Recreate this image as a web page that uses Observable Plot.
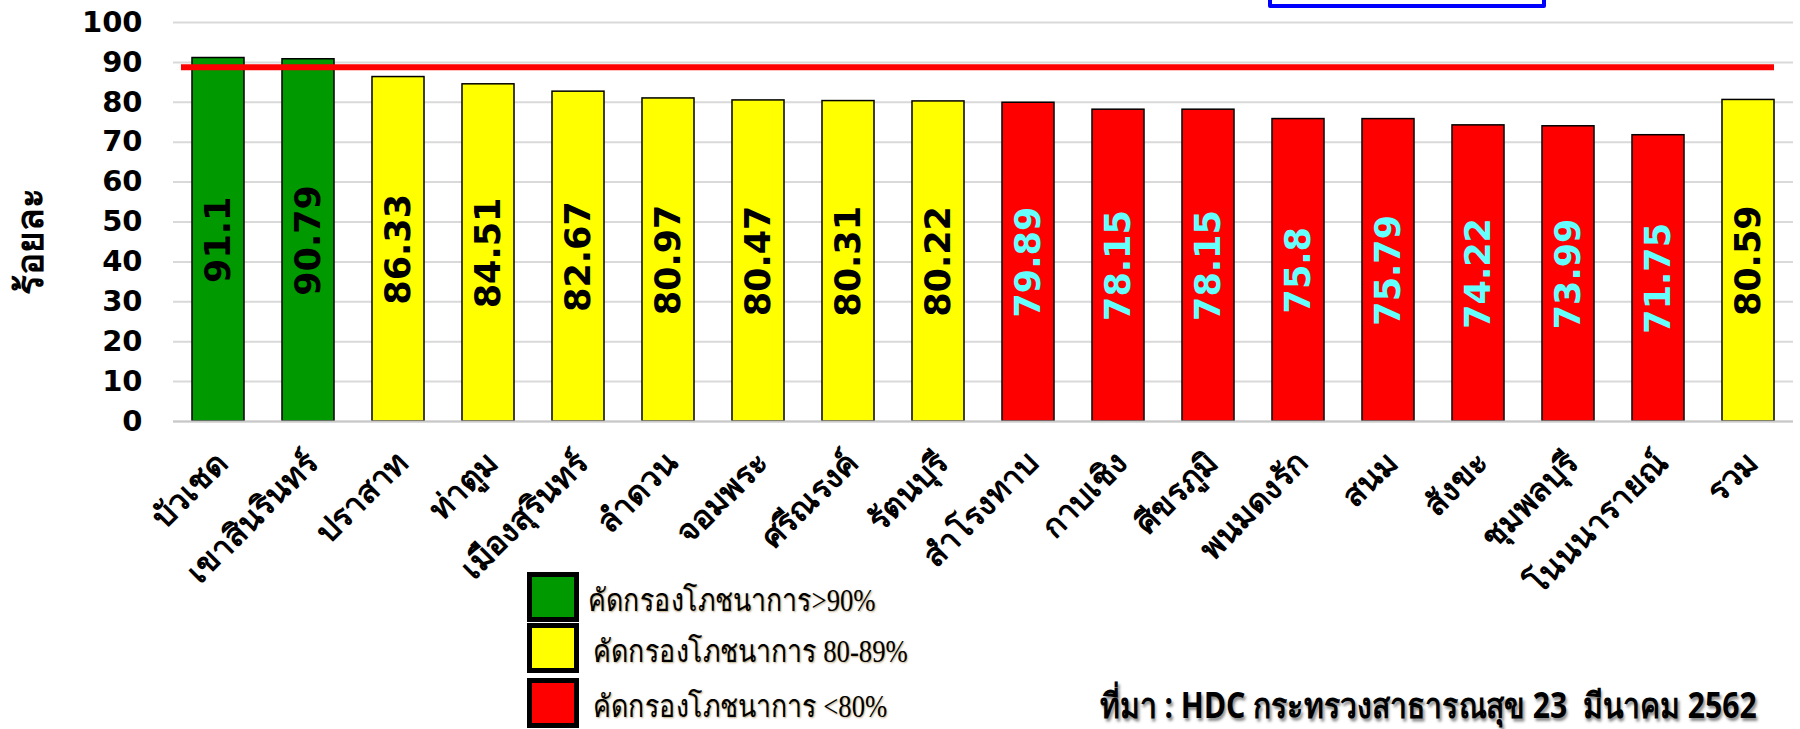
<!DOCTYPE html>
<html>
<head>
<meta charset="utf-8">
<script src="https://cdn.jsdelivr.net/npm/d3@7"></script>
<script src="https://cdn.jsdelivr.net/npm/@observablehq/plot@0.6"></script>
<style>
  html, body { margin: 0; padding: 0; background: #fff; overflow: hidden; }
  #wrap { position: relative; width: 1800px; height: 729px; overflow: hidden; background: #fff; }
  #chart { position: absolute; left: 0; top: 0; }
  .ylab { position: absolute; left: 29px; top: 241px; transform: translate(-50%, -50%) rotate(-90deg);
          font: bold 37px Tahoma, "Noto Sans", "DejaVu Sans", sans-serif; white-space: nowrap; color: #000; }
  .topbox { position: absolute; left: 1268px; top: -40px; width: 270px; height: 40px; border: 4px solid #0000ff; border-radius: 2px; }
  .leg { position: absolute; left: 527px; width: 42px; height: 40px; border: 5px solid #000; }
  .legt { position: absolute; font: 31px "Liberation Serif", "Noto Sans", serif; color: #000; white-space: nowrap;
          transform: scaleX(0.86); transform-origin: left center;
          text-shadow: 1px 1px 2px rgba(120,80,0,0.5); }
  .cap { position: absolute; left: 1100px; top: 678px; font: bold 35px "Noto Sans", "DejaVu Sans", sans-serif; white-space: pre;
         transform: scaleX(0.86); transform-origin: left center;
         text-shadow: 2px 3px 3px rgba(0,0,0,0.45); color: #000; }
</style>
</head>
<body>
<div id="wrap">
  <div id="chart"></div>
</div>
<script>
const districts = ["บัวเชด","เขาสินรินทร์","ปราสาท","ท่าตูม","เมืองสุรินทร์","ลำดวน","จอมพระ","ศรีณรงค์","รัตนบุรี","สำโรงทาบ","กาบเชิง","ศีขรภูมิ","พนมดงรัก","สนม","สังขะ","ชุมพลบุรี","โนนนารายณ์","รวม"];
const values = [91.1, 90.79, 86.33, 84.51, 82.67, 80.97, 80.47, 80.31, 80.22, 79.89, 78.15, 78.15, 75.8, 75.79, 74.22, 73.99, 71.75, 80.59];
const levels = ["high","high","mid","mid","mid","mid","mid","mid","mid","low","low","low","low","low","low","low","low","mid"];
const yTicks = [0, 10, 20, 30, 40, 50, 60, 70, 80, 90, 100];
const target = [88.8];
const legendLabels = ["คัดกรองโภชนาการ>90%", "คัดกรองโภชนาการ 80-89%", "คัดกรองโภชนาการ <80%"];
const yTitle = "ร้อยละ";
const source = "ที่มา : HDC กระทรวงสาธารณสุข 23  มีนาคม 2562";

const levelFill = {high: "#009900", mid: "#ffff00", low: "#ff0000"};
const levelText = {high: "#000000", mid: "#000000", low: "#66ffff"};

const data = districts.map((d, i) => ({name: d, value: values[i], level: levels[i]}));

const thaiFont = "Tahoma, 'Noto Sans', 'DejaVu Sans', sans-serif";

const chart = Plot.plot({
  width: 1800,
  height: 729,
  marginLeft: 173,
  marginRight: 7,
  marginTop: 22,
  marginBottom: 308,
  style: {background: "transparent"},
  x: {type: "band", domain: districts, paddingInner: 0.42, paddingOuter: 0.21, align: 0.5, label: null},
  y: {domain: [0, 100], ticks: yTicks, label: null},
  marks: [
    Plot.gridY(yTicks, {stroke: "#d9d9d9", strokeOpacity: 1, strokeWidth: 2}),
    Plot.barY(data, {x: "name", y: "value", fill: d => levelFill[d.level], stroke: "#000", strokeWidth: 1.5}),
    Plot.ruleY([0], {stroke: "#c8c8c8", strokeWidth: 2}),
    Plot.ruleY(target, {stroke: "#ff0000", strokeWidth: 6, insetLeft: 8, insetRight: 19}),
    Plot.text(data, {x: "name", y: d => d.value / 2, text: d => String(d.value), rotate: -90,
      fill: d => levelText[d.level], fontSize: 35, fontWeight: "bold", fontFamily: "'DejaVu Sans', Verdana, sans-serif"}),
    Plot.axisY(yTicks, {tickSize: 0, tickPadding: 31, fontSize: 29, fontWeight: "bold", fill: "#000",
      fontFamily: "'DejaVu Sans', Tahoma, sans-serif", label: null}),
    Plot.axisX({tickSize: 0, tickPadding: 36, tickRotate: -45, dx: 4, fontSize: 32, fontWeight: "bold", fill: "#000",
      fontFamily: thaiFont, label: null})
  ]
});
document.getElementById("chart").appendChild(chart);

const wrap = document.getElementById("wrap");
function add(cls, css, text) {
  const el = document.createElement("div");
  el.className = cls;
  Object.assign(el.style, css);
  if (text != null) el.textContent = text;
  wrap.appendChild(el);
  return el;
}
add("ylab", {}, yTitle);
add("topbox", {});
const legFills = [levelFill.high, levelFill.mid, levelFill.low];
const legTops = [572, 623, 678];
const legTextLeft = [588, 593, 593];
legendLabels.forEach((t, i) => {
  add("leg", {top: legTops[i] + "px", background: legFills[i]});
  add("legt", {top: (legTops[i] + 3) + "px", left: legTextLeft[i] + "px"}, t);
});
add("cap", {}, source);
</script>
</body>
</html>
